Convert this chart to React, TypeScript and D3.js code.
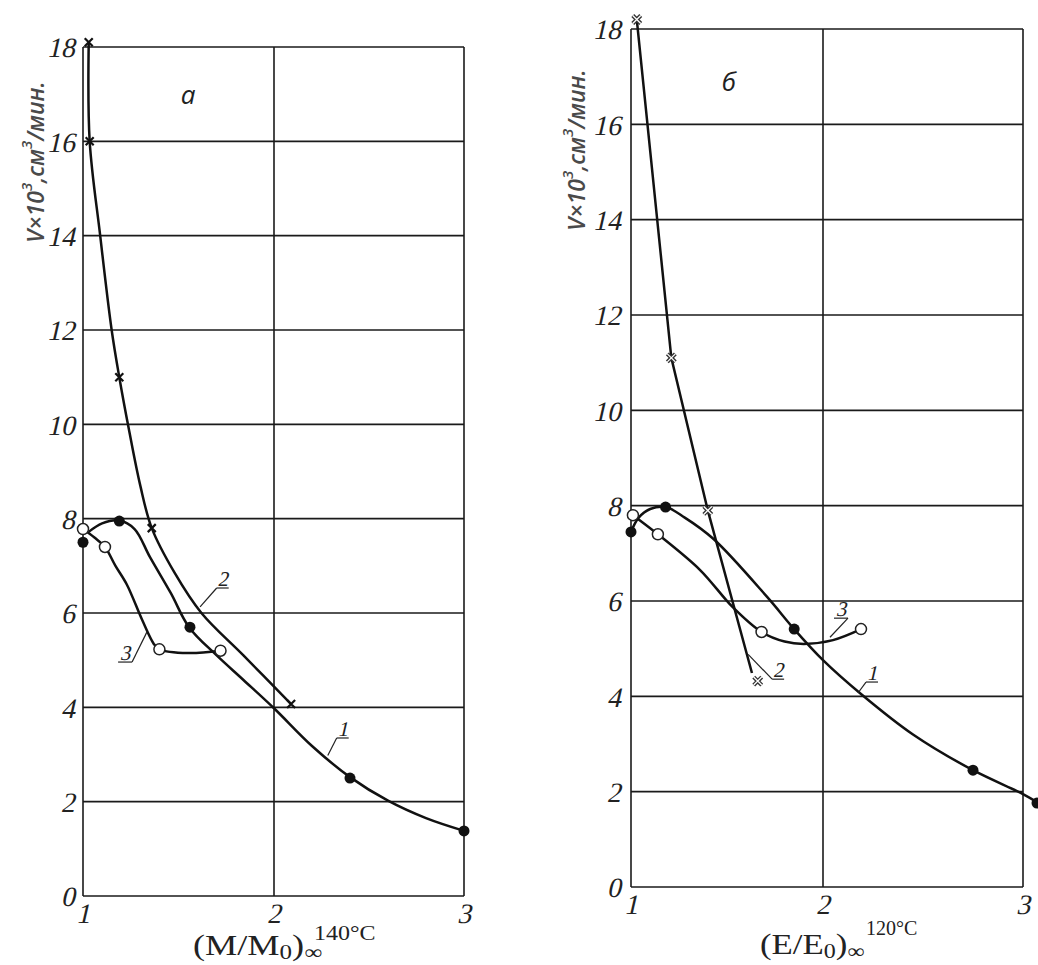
import React from "react";
import * as d3 from "d3";

type P = [number, number];

// ---------- shared ticks ----------
const X_TICKS = [1, 2, 3];
const Y_TICKS = [0, 2, 4, 6, 8, 10, 12, 14, 16, 18];

// ---------- panel "а" ----------
const A_CURVE1_LINE: P[] = [
  [1.03, 7.72], [1.1, 7.9], [1.19, 7.96], [1.27, 7.78], [1.35, 7.19], [1.46, 6.42],
  [1.555, 5.7], [1.7, 5.1], [1.84, 4.58], [2.0, 3.98], [2.2, 3.18], [2.4, 2.52],
  [2.6, 2.02], [2.8, 1.65], [3.0, 1.38],
];
const A_CURVE2_LINE: P[] = [
  [1.03, 18.1], [1.035, 16.0], [1.09, 14.0], [1.15, 12.0], [1.19, 11.0], [1.24, 9.9],
  [1.3, 8.7], [1.36, 7.8], [1.48, 6.85], [1.62, 6.0], [1.84, 5.1], [2.09, 4.07],
];
const A_CURVE3_LINE: P[] = [
  [1.0, 7.78], [1.06, 7.6], [1.115, 7.4], [1.17, 7.0], [1.23, 6.6], [1.31, 5.85],
  [1.37, 5.35], [1.4, 5.23], [1.55, 5.15], [1.72, 5.2],
];
const A_DOTS: P[] = [[1.0, 7.5], [1.19, 7.95], [1.56, 5.7], [2.4, 2.5], [3.0, 1.38]];
const A_CIRCLES: P[] = [[1.0, 7.78], [1.115, 7.4], [1.4, 5.23], [1.72, 5.2]];
const A_CROSSES: P[] = [[1.03, 18.1], [1.035, 16.0], [1.19, 11.0], [1.36, 7.8], [2.09, 4.07]];
const A_LABELS = [
  { text: "2", from: [1.613, 6.13] as P, to: [1.7, 6.53] as P, side: "right" },
  { text: "3", from: [1.335, 5.6] as P, to: [1.257, 4.96] as P, side: "left" },
  { text: "1", from: [2.283, 2.98] as P, to: [2.33, 3.35] as P, side: "right" },
];

// ---------- panel "б" ----------
const B_CURVE1_LINE: P[] = [
  [1.0, 7.45], [1.04, 7.75], [1.1, 7.93], [1.18, 7.97], [1.28, 7.75], [1.43, 7.3],
  [1.71, 6.08], [1.85, 5.41], [2.0, 4.76], [2.19, 4.05], [2.45, 3.2], [2.75, 2.45],
  [3.0, 1.95], [3.07, 1.78],
];
const B_CURVE2_LINE: P[] = [[1.03, 18.2], [1.21, 11.1], [1.4, 7.9], [1.63, 4.49]];
const B_CURVE3_LINE: P[] = [
  [1.01, 7.8], [1.14, 7.4], [1.36, 6.65], [1.53, 5.87], [1.68, 5.35], [1.8, 5.15],
  [1.9, 5.1], [2.05, 5.18], [2.19, 5.41],
];
const B_DOTS: P[] = [[1.0, 7.45], [1.18, 7.97], [1.85, 5.41], [2.75, 2.45], [3.07, 1.76]];
const B_CIRCLES: P[] = [[1.01, 7.8], [1.14, 7.4], [1.68, 5.35], [2.19, 5.41]];
const B_CROSSES: P[] = [[1.03, 18.2], [1.21, 11.1], [1.4, 7.9], [1.66, 4.32]];
const B_LABELS = [
  { text: "2", from: [1.61, 4.88] as P, to: [1.735, 4.36] as P, side: "right" },
  { text: "3", from: [2.035, 5.24] as P, to: [2.125, 5.64] as P, side: "left" },
  { text: "1", from: [2.175, 4.07] as P, to: [2.215, 4.3] as P, side: "right" },
];

const SERIF = "'Liberation Serif', 'Times New Roman', serif";
const SANS = "'Open Sans', 'Noto Sans', sans-serif";
const INK = "#1a1a1a";

// serif text slanted like an italic face
function Slanted(props: { x: number; y: number; size: number; anchor: string; baseline?: string; children: any }) {
  return (
    <g transform={`translate(${props.x},${props.y}) skewX(-13)`}>
      <text x={0} y={0} textAnchor={props.anchor as any} dominantBaseline={(props.baseline || "auto") as any}
        fontFamily={SERIF} fontSize={props.size} fill="#222">{props.children}</text>
    </g>
  );
}

type PanelProps = {
  xRange: number[];
  yRange: number[];
  c1: P[]; c2: P[]; c3: P[];
  c2Linear: boolean;
  dots: P[]; circles: P[]; crosses: P[];
  labels: { text: string; from: P; to: P; side: string }[];
  letter: string; letterPos: P;
  yLabelPos: P;
  hollowCross: boolean;
  yTickGap: number;
};

function Panel(p: PanelProps) {
  const x = d3.scaleLinear().domain(X_TICKS).range(p.xRange);
  const y = d3.scaleLinear().domain([0, 18]).range(p.yRange);
  const smooth = d3.line<P>().x((d) => x(d[0])).y((d) => y(d[1])).curve(d3.curveCatmullRom.alpha(0.5));
  const straight = d3.line<P>().x((d) => x(d[0])).y((d) => y(d[1]));
  const x0 = x(1), x1 = x(3), y0 = y(0), y1 = y(18);
  return (
    <g>
      {Y_TICKS.map((t) => (
        <line key={"h" + t} x1={x0} x2={x1} y1={y(t)} y2={y(t)} stroke={INK} strokeWidth={1.6} />
      ))}
      {X_TICKS.map((t) => (
        <line key={"v" + t} x1={x(t)} x2={x(t)} y1={y0} y2={y1} stroke={INK} strokeWidth={1.6} />
      ))}
      {Y_TICKS.map((t) => (
        <Slanted key={"yt" + t} x={x0 - p.yTickGap} y={y(t) + 1} size={28} anchor="end" baseline="central">{t}</Slanted>
      ))}
      {X_TICKS.map((t) => (
        <Slanted key={"xt" + t} x={x(t)} y={y0 + 27} size={28} anchor="middle">{t}</Slanted>
      ))}
      <path d={smooth(p.c1) || ""} fill="none" stroke="#111" strokeWidth={2.5} />
      <path d={(p.c2Linear ? straight(p.c2) : smooth(p.c2)) || ""} fill="none" stroke="#111" strokeWidth={2.5} />
      <path d={smooth(p.c3) || ""} fill="none" stroke="#111" strokeWidth={2.5} />
      {p.labels.map((l, i) => {
        const fx = x(l.from[0]), fy = y(l.from[1]), tx = x(l.to[0]), ty = y(l.to[1]);
        const ux = l.side === "right" ? tx + 12 : tx - 14;
        return (
          <g key={"lab" + i}>
            <line x1={fx} y1={fy} x2={tx} y2={ty} stroke="#222" strokeWidth={1.2} />
            <line x1={tx} y1={ty} x2={ux} y2={ty} stroke="#222" strokeWidth={1.2} />
            <Slanted x={(tx + ux) / 2} y={ty - 2} size={21} anchor="middle">{l.text}</Slanted>
          </g>
        );
      })}
      {p.crosses.map((c, i) => {
        const cx = x(c[0]), cy = y(c[1]);
        const d = `M${cx - 4},${cy - 4}L${cx + 4},${cy + 4}M${cx - 4},${cy + 4}L${cx + 4},${cy - 4}`;
        return p.hollowCross ? (
          <g key={"x" + i}>
            <path d={d} stroke="#333" strokeWidth={4} fill="none" />
            <path d={d} stroke="#fff" strokeWidth={1.3} fill="none" />
          </g>
        ) : (
          <path key={"x" + i} d={d} stroke="#111" strokeWidth={2.2} fill="none" />
        );
      })}
      {p.dots.map((c, i) => (
        <circle key={"d" + i} cx={x(c[0])} cy={y(c[1])} r={5.5} fill="#111" />
      ))}
      {p.circles.map((c, i) => (
        <circle key={"o" + i} cx={x(c[0])} cy={y(c[1])} r={5.5} fill="#fff" stroke="#222" strokeWidth={1.5} />
      ))}
      <text x={x(p.letterPos[0])} y={y(p.letterPos[1])} textAnchor="middle" dominantBaseline="central"
        fontFamily={SANS} fontStyle="italic" fontSize={26} fill="#222">{p.letter}</text>
      <text transform={`translate(${p.yLabelPos[0]},${p.yLabelPos[1]}) rotate(-90)`} textAnchor="middle"
        dominantBaseline="central" fontFamily={SANS} fontStyle="italic" fontWeight={600} fontSize={23} fill="#4a4a4a">
        <tspan>V×10</tspan>
        <tspan dy={-9} fontSize={15}>3</tspan>
        <tspan dy={9}>,см</tspan>
        <tspan dy={-9} fontSize={15}>3</tspan>
        <tspan dy={9}>/мин.</tspan>
      </text>
    </g>
  );
}

export default function App() {
  return (
    <svg width={1038} height={965} style={{ position: "absolute", left: 0, top: 0, background: "#fff" }}>
      <rect width={1038} height={965} fill="#fff" />
      <Panel xRange={[83, 274, 464]} yRange={[896, 47]} c1={A_CURVE1_LINE} c2={A_CURVE2_LINE}
        c3={A_CURVE3_LINE} c2Linear={false} dots={A_DOTS} circles={A_CIRCLES} crosses={A_CROSSES}
        labels={A_LABELS} letter="а" letterPos={[1.55, 17.0]} yLabelPos={[35, 162]} hollowCross={false}
        yTickGap={6} />
      <Panel xRange={[631, 823, 1023]} yRange={[887, 29]} c1={B_CURVE1_LINE} c2={B_CURVE2_LINE}
        c3={B_CURVE3_LINE} c2Linear={true} dots={B_DOTS} circles={B_CIRCLES} crosses={B_CROSSES}
        labels={B_LABELS} letter="б" letterPos={[1.51, 16.9]} yLabelPos={[576, 150]} hollowCross={true}
        yTickGap={8} />
      {/* x-axis titles */}
      <g transform="translate(193,955) scale(1.25,1)">
        <text fontFamily={SERIF} fontSize={29} fill="#222">
          <tspan>(M/M</tspan>
          <tspan dy={4} fontSize={20}>0</tspan>
          <tspan dy={-4}>)</tspan>
          <tspan dy={4} fontSize={20}>∞</tspan>
        </text>
      </g>
      <g transform="translate(314,940) scale(1.2,1)">
        <text fontFamily={SERIF} fontSize={20} fill="#222">140°C</text>
      </g>
      <g transform="translate(760,954) scale(1.2,1)">
        <text fontFamily={SERIF} fontSize={29} fill="#222">
          <tspan>(E/E</tspan>
          <tspan dy={4} fontSize={20}>0</tspan>
          <tspan dy={-4}>)</tspan>
          <tspan dy={4} fontSize={20}>∞</tspan>
        </text>
      </g>
      <text x={866} y={935} fontFamily={SERIF} fontSize={20} fill="#222">120°C</text>
    </svg>
  );
}
